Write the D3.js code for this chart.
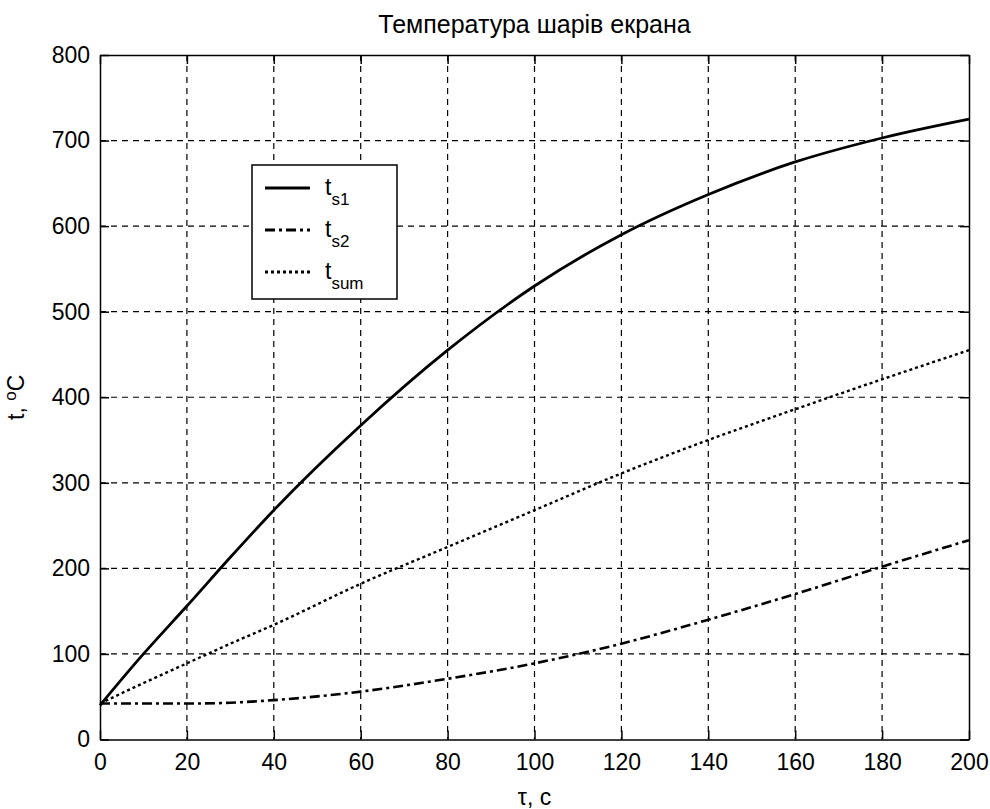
<!DOCTYPE html>
<html>
<head>
<meta charset="utf-8">
<script src="https://cdn.jsdelivr.net/npm/d3@7"></script>
<style>
  body { margin: 0; background: #fff; }
  text { font-family: "Liberation Sans", Arial, sans-serif; fill: #000; }
</style>
</head>
<body>
<div id="chart"></div>
<script>
// data
var tau = [0, 10, 20, 30, 40, 60, 80, 100, 120, 140, 160, 180, 200];
var ts1 = [40, 100, 156, 213, 268, 367, 455, 530, 590, 637, 675, 703, 725];
var ts2 = [42, 42, 42, 43, 46, 56, 71, 89, 112, 140, 170, 202, 233];
var tsum = [42, 66, 89, 112, 134, 182, 225, 268, 311, 350, 386, 421, 455];
var xTicks = [0, 20, 40, 60, 80, 100, 120, 140, 160, 180, 200];
var yTicks = [0, 100, 200, 300, 400, 500, 600, 700, 800];

var margin = {top: 55, right: 21, bottom: 69.5, left: 100},
    width = 990 - margin.left - margin.right,
    height = 809 - margin.top - margin.bottom;

var svg = d3.select("#chart")
  .append("svg")
    .attr("width", 990)
    .attr("height", 809)
  .append("g")
    .attr("transform", "translate(" + margin.left + "," + margin.top + ")");

var x = d3.scaleLinear().domain([0, 200]).range([0, width]);
var y = d3.scaleLinear().domain([0, 800]).range([height, 0]);

// grid
svg.selectAll(".vgrid")
  .data(xTicks.slice(1, -1))
  .enter().append("line")
    .attr("x1", function(d) { return x(d); })
    .attr("x2", function(d) { return x(d); })
    .attr("y1", 0)
    .attr("y2", height)
    .attr("stroke", "#000")
    .attr("stroke-width", 1.2)
    .attr("stroke-dasharray", "6,5");
svg.selectAll(".hgrid")
  .data(yTicks.slice(1, -1))
  .enter().append("line")
    .attr("x1", 0)
    .attr("x2", width)
    .attr("y1", function(d) { return y(d); })
    .attr("y2", function(d) { return y(d); })
    .attr("stroke", "#000")
    .attr("stroke-width", 1.2)
    .attr("stroke-dasharray", "6,5");

// axes (inward ticks on all four sides)
var tick = 9;
svg.append("g")
    .attr("transform", "translate(0," + height + ")")
    .call(d3.axisBottom(x).tickValues(xTicks).tickSizeInner(-tick).tickSizeOuter(0).tickPadding(14));
svg.append("g")
    .call(d3.axisTop(x).tickValues(xTicks).tickSizeInner(-tick).tickSizeOuter(0).tickFormat(""));
svg.append("g")
    .call(d3.axisLeft(y).tickValues(yTicks).tickSizeInner(-tick).tickSizeOuter(0).tickPadding(10));
svg.append("g")
    .attr("transform", "translate(" + width + ",0)")
    .call(d3.axisRight(y).tickValues(yTicks).tickSizeInner(-tick).tickSizeOuter(0).tickFormat(""));

svg.selectAll(".domain").attr("stroke", "#000").attr("stroke-width", 1.5);
svg.selectAll(".tick line").attr("stroke", "#000").attr("stroke-width", 1.5);
svg.selectAll(".tick text").style("font-size", "23px").attr("fill", "#000");

// curves
var series = [
  {name: "s1", values: ts1, dash: null, w: 2.8},
  {name: "s2", values: ts2, dash: "10,4,3,4", w: 2.6},
  {name: "sum", values: tsum, dash: "3,3", w: 2.4}
];

var line = d3.line()
    .x(function(d) { return x(d[0]); })
    .y(function(d) { return y(d[1]); })
    .curve(d3.curveMonotoneX);

series.forEach(function(s) {
  svg.append("path")
    .datum(d3.zip(tau, s.values))
    .attr("d", line)
    .attr("fill", "none")
    .attr("stroke", "#000")
    .attr("stroke-width", s.w)
    .attr("stroke-dasharray", s.dash);
});

// title and labels
svg.append("text")
  .attr("x", width / 2)
  .attr("y", -22)
  .attr("text-anchor", "middle")
  .style("font-size", "25px")
  .text("Температура шарів екрана");

svg.append("text")
  .attr("x", width / 2)
  .attr("y", height + 65)
  .attr("text-anchor", "middle")
  .style("font-size", "23px")
  .text("τ, с");

svg.append("text")
  .attr("transform", "translate(-76," + (height / 2) + ") rotate(-90)")
  .attr("text-anchor", "middle")
  .style("font-size", "23px")
  .html("t, <tspan dy='-8' font-size='17px'>o</tspan><tspan dy='8'>C</tspan>");

// legend
var lg = svg.append("g").attr("transform", "translate(" + (252 - margin.left) + "," + (165 - margin.top) + ")");
lg.append("rect")
  .attr("width", 145)
  .attr("height", 134)
  .attr("fill", "#fff")
  .attr("stroke", "#000")
  .attr("stroke-width", 1.5);

series.forEach(function(s, i) {
  var yy = 23 + i * 42;
  lg.append("line")
    .attr("x1", 13).attr("x2", 58)
    .attr("y1", yy).attr("y2", yy)
    .attr("stroke", "#000")
    .attr("stroke-width", 3)
    .attr("stroke-dasharray", s.dash);
  var t = lg.append("text")
    .attr("x", 73)
    .attr("y", yy + 7)
    .style("font-size", "23px");
  t.append("tspan").text("t");
  t.append("tspan").attr("dy", 10).style("font-size", "17px").text(s.name);
});
</script>
</body>
</html>
